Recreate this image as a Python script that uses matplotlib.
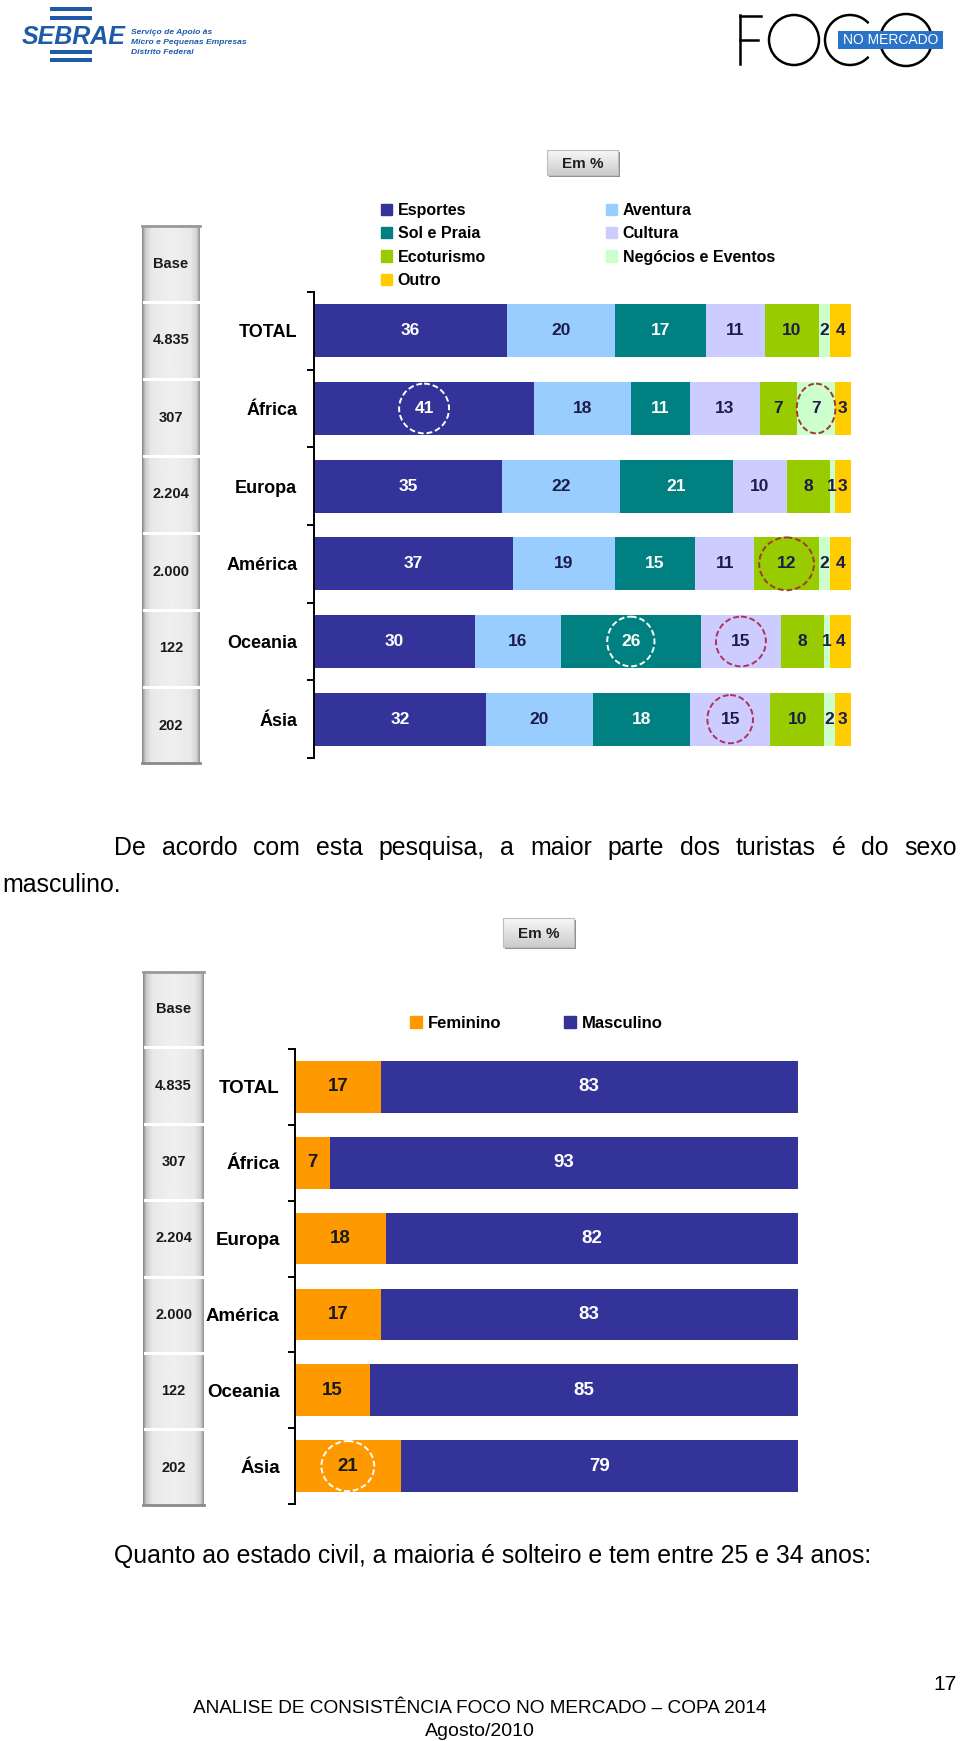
'''plot.py draws the page with the two stacked bar charts (motivo da viagem / sexo).'''

import numpy as np
import matplotlib.pyplot as plt
from matplotlib.patches import Rectangle, Ellipse, Arc, Circle, Patch
from matplotlib.font_manager import FontProperties

W, H = 960, 1741

# --- data ---------------------------------------------------------------
regioes = ['TOTAL', 'África', 'Europa', 'América', 'Oceania', 'Ásia']
base = ['4.835', '307', '2.204', '2.000', '122', '202']

motivos = ['Esportes', 'Aventura', 'Sol e Praia', 'Cultura',
           'Ecoturismo', 'Negócios e Eventos', 'Outro']
esportes = [36, 41, 35, 37, 30, 32]
aventura = [20, 18, 22, 19, 16, 20]
sol_praia = [17, 11, 21, 15, 26, 18]
cultura = [11, 13, 10, 11, 15, 15]
ecoturismo = [10, 7, 8, 12, 8, 10]
negocios = [2, 7, 1, 2, 1, 2]
outro = [4, 3, 3, 4, 4, 3]

sexos = ['Feminino', 'Masculino']
feminino = [17, 7, 18, 17, 15, 21]
masculino = [83, 93, 82, 83, 85, 79]

# highlighted cells: (series index, row index)
destaques1 = [(0, 1), (5, 1), (4, 3), (2, 4), (3, 4), (3, 5)]
destaques2 = [(0, 5)]

cores1 = ['#333399', '#99ccff', '#008080', '#ccccff', '#99cc00', '#ccffcc', '#ffcc00']
txt1 = ['white', '#1c1c4a', 'white', '#1c1c4a', '#1c1c4a', '#1c1c4a', '#1c1c4a']
cores2 = ['#ff9900', '#333399']
txt2 = ['#1a1a1a', 'white']

FONT = 'Liberation Sans'


def bold(size):
    return FontProperties(family=FONT, weight='bold', size=size)


fig = plt.figure(figsize=(W / 100, H / 100), dpi=100)
bg = fig.add_axes([0, 0, 1, 1])
bg.set_xlim(0, W)
bg.set_ylim(H, 0)
bg.axis('off')


def px_axes(left, top, right, bottom):
    return fig.add_axes([left / W, 1 - bottom / H, (right - left) / W, (bottom - top) / H])


def em_box(x, y, w, h):
    bg.add_patch(Rectangle((x + 2, y + 2), w, h, fc='#8f8f8f', ec='none', zorder=1))
    grad = np.linspace(0.97, 0.80, 30)[:, None]
    bg.imshow(grad, cmap='gray', vmin=0, vmax=1, extent=(x, x + w, y + h, y),
              aspect='auto', zorder=2)
    bg.add_patch(Rectangle((x, y), w, h, fc='none', ec='#bdbdbd', lw=0.8, zorder=3))
    bg.text(x + w / 2, y + h / 2 + 1, 'Em %', ha='center', va='center',
            fontproperties=bold(11), color='#202020', zorder=4)


def base_column(x0, x1, y0, cell, values):
    y1 = y0 + cell * (len(values) + 1)
    prof = np.interp(np.linspace(0, 1, 60), [0, 0.05, 0.15, 0.5, 0.85, 0.95, 1],
                     [0.55, 0.80, 0.91, 0.94, 0.91, 0.82, 0.60])
    bg.imshow(np.tile(prof, (2, 1)), cmap='gray', vmin=0, vmax=1,
              extent=(x0, x1, y1, y0), aspect='auto')
    bg.plot([x0, x1], [y0 + 1, y0 + 1], color='#9a9a9a', lw=2)
    bg.plot([x0, x1], [y1 - 1, y1 - 1], color='#8a8a8a', lw=2)
    for k in range(1, len(values) + 1):
        bg.plot([x0 + 2, x1 - 2], [y0 + k * cell] * 2, color='white', lw=2.2)
    xc = (x0 + x1) / 2
    for k, v in enumerate(['Base'] + values):
        bg.text(xc, y0 + (k + 0.5) * cell, v, ha='center', va='center',
                fontproperties=bold(10.5), color='#1a1a1a')


def stacked(ax, series, colors, tcolors, fs, hl, hl_colors, hl_sizes, pad, lfs):
    y = np.arange(len(regioes))
    left = np.zeros(len(regioes))
    starts = []
    for vals, c, tc in zip(series, colors, tcolors):
        vals = np.array(vals, dtype=float)
        starts.append(left.copy())
        bars = ax.barh(y, vals, left=left, height=0.68, color=c, edgecolor='none')
        ax.bar_label(bars, labels=[str(int(v)) for v in vals], label_type='center',
                     color=tc, fontproperties=bold(fs))
        left += vals
    for (s, r), ec, (w, h) in zip(hl, hl_colors, hl_sizes):
        cx = starts[s][r] + series[s][r] / 2
        ax.add_patch(Ellipse((cx, r), w, h, fill=False, ec=ec, lw=1.4,
                             ls=(0, (3, 1.5)), zorder=3))
    ax.set_xlim(0, 100)
    ax.set_ylim(len(regioes) - 0.5, -0.5)
    ax.patch.set_visible(False)
    for sp in ['top', 'right', 'bottom']:
        ax.spines[sp].set_visible(False)
    ax.spines['left'].set_linewidth(1.4)
    ax.set_xticks([])
    ax.set_yticks(y)
    ax.set_yticklabels(regioes, fontproperties=bold(lfs))
    ax.tick_params(axis='y', which='major', length=0, pad=pad)
    ax.set_yticks(np.arange(-0.5, len(regioes), 1), minor=True)
    ax.tick_params(axis='y', which='minor', length=5, width=1.4, direction='out')


# --- header logos -------------------------------------------------------
sebrae = '#1d5ba6'
for yb in [8.5, 17.5, 51.5, 60]:
    bg.add_patch(Rectangle((50, yb - 2), 42, 4, fc=sebrae, ec='none'))
bg.text(22, 44, 'SEBRAE', fontsize=18, fontweight='bold', style='italic',
        family=FONT, color=sebrae, va='baseline')
for yy, t in zip([34, 44, 54], ['Serviço de Apoio às', 'Micro e Pequenas Empresas',
                                'Distrito Federal']):
    bg.text(131, yy, t, fontsize=6.1, fontweight='bold', style='italic', family=FONT,
            color=sebrae, va='baseline')

# FOCO no mercado
bg.plot([740, 740], [15, 64], color='black', lw=1.8)
bg.plot([740, 761], [15.5, 15.5], color='black', lw=1.8)
bg.plot([740, 758], [40, 40], color='black', lw=1.8)
bg.add_patch(Circle((794, 40), 25, fill=False, ec='black', lw=1.8))
bg.add_patch(Arc((850, 40), 50, 50, theta1=42, theta2=318, ec='black', lw=1.8))
bg.add_patch(Circle((906, 40), 26, fill=False, ec='black', lw=1.8))
bg.add_patch(Rectangle((838, 31), 105, 18, fc='#2b73c6', ec='none'))
bg.text(891, 40.5, 'NO MERCADO', ha='center', va='center', fontsize=10,
        family=FONT, color='white')

# --- chart 1: motivo da viagem -----------------------------------------
em_box(547, 150, 71, 25)
base_column(142, 200, 225, 77, base)
ax1 = px_axes(314, 292, 851, 758)
stacked(ax1, [esportes, aventura, sol_praia, cultura, ecoturismo, negocios, outro],
        cores1, txt1, 12.5, destaques1,
        ['white', '#9c3b2e', '#9c3b2e', 'white', '#b3305a', '#b3305a'],
        [(9.3, 0.64), (7.2, 0.64), (10.2, 0.68), (8.8, 0.64), (9.3, 0.64), (8.5, 0.62)],
        12, 13)
ordem = [0, 2, 4, 6, 1, 3, 5]
fig.legend([Patch(color=cores1[i]) for i in ordem], [motivos[i] for i in ordem],
           loc='upper left', bbox_to_anchor=(381 / W, 1 - 203 / H), ncol=2,
           frameon=False, prop=bold(11.5),
           handlelength=0.7, handleheight=0.7, handletextpad=0.35,
           columnspacing=7.5, labelspacing=0.52, borderpad=0, borderaxespad=0)


# --- body text ----------------------------------------------------------
def justified(words, x0, x1, y, **kw):
    r = fig.canvas.get_renderer()
    objs = [bg.text(0, y, w, va='baseline', **kw) for w in words]
    widths = [o.get_window_extent(r).width for o in objs]
    gap = (x1 - x0 - sum(widths)) / (len(words) - 1)
    x = x0
    for o, w in zip(objs, widths):
        o.set_x(x)
        x += w + gap


body = dict(fontsize=17.9, family=FONT, color='black')
justified('De acordo com esta pesquisa, a maior parte dos turistas é do sexo'.split(),
          114, 957, 855, **body)
bg.text(2, 892, 'masculino.', va='baseline', **body)

# --- chart 2: sexo ------------------------------------------------------
em_box(503, 918, 71, 29)
base_column(143, 204, 971, 76.4, base)
ax2 = px_axes(295, 1049, 798, 1504)
stacked(ax2, [feminino, masculino], cores2, txt2, 13.5, destaques2,
        ['white'], [(10.5, 0.66)], 11, 13.5)
fig.legend([Patch(color=c) for c in cores2], sexos,
           loc='upper left', bbox_to_anchor=(410 / W, 1 - 1016 / H), ncol=2,
           frameon=False, prop=bold(12),
           handlelength=0.7, handleheight=0.7, handletextpad=0.35,
           columnspacing=3.8, borderpad=0, borderaxespad=0)

bg.text(114, 1563, 'Quanto ao estado civil, a maioria é solteiro e tem entre 25 e 34 anos:',
        va='baseline', **body)

# --- footer -------------------------------------------------------------
bg.text(957, 1690, '17', ha='right', va='baseline', fontsize=15, family=FONT)
bg.text(480, 1713, 'ANALISE DE CONSISTÊNCIA FOCO NO MERCADO – COPA 2014', ha='center',
        va='baseline', fontsize=13.7, family=FONT)
bg.text(480, 1736, 'Agosto/2010', ha='center', va='baseline', fontsize=14, family=FONT)

fig.savefig('out.png', dpi=100)
